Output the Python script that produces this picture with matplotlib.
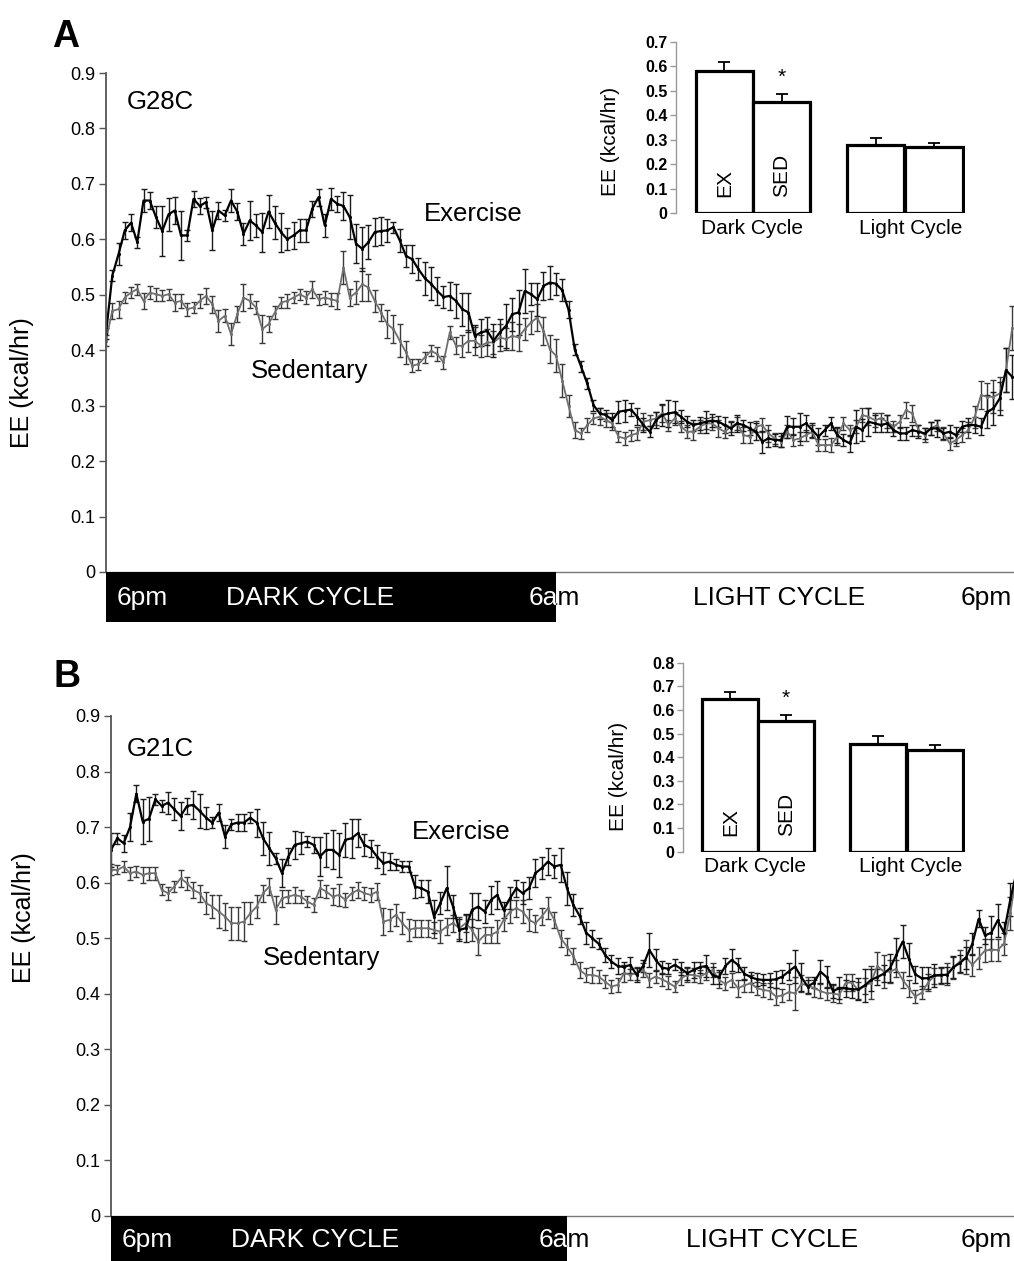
import numpy as np
import matplotlib
matplotlib.use("Agg")
import matplotlib.pyplot as plt
from matplotlib.patches import Rectangle

plt.rcParams['font.family'] = ['Liberation Sans', 'DejaVu Sans']

# ---------------- data (10 min bins, hours from 6pm) ----------------
ex_a = [0.43, 0.534, 0.573, 0.616, 0.63, 0.595, 0.67, 0.67, 0.64, 0.615,
        0.645, 0.652, 0.607, 0.607, 0.673, 0.66, 0.667, 0.616, 0.652, 0.643,
        0.67, 0.65, 0.61, 0.634, 0.625, 0.613, 0.65, 0.63, 0.613, 0.60,
        0.607, 0.616, 0.616, 0.655, 0.676, 0.625, 0.673, 0.664, 0.66, 0.64,
        0.592, 0.583, 0.595, 0.613, 0.615, 0.616, 0.622, 0.598, 0.57, 0.564,
        0.546, 0.53, 0.52, 0.507, 0.496, 0.498, 0.489, 0.474, 0.468, 0.426,
        0.432, 0.435, 0.417, 0.432, 0.444, 0.465, 0.468, 0.507, 0.501, 0.492,
        0.516, 0.522, 0.52, 0.508, 0.473, 0.401, 0.371, 0.34, 0.301, 0.286,
        0.283, 0.274, 0.289, 0.291, 0.293, 0.28, 0.265, 0.253, 0.274, 0.283,
        0.286, 0.288, 0.28, 0.271, 0.265, 0.268, 0.271, 0.273, 0.271, 0.265,
        0.259, 0.268, 0.265, 0.259, 0.253, 0.235, 0.241, 0.238, 0.238, 0.262,
        0.262, 0.262, 0.268, 0.256, 0.244, 0.256, 0.268, 0.247, 0.238, 0.232,
        0.262, 0.256, 0.271, 0.268, 0.265, 0.268, 0.256, 0.25, 0.25, 0.256,
        0.253, 0.25, 0.259, 0.259, 0.25, 0.253, 0.247, 0.262, 0.265, 0.265,
        0.262, 0.289, 0.295, 0.313, 0.364, 0.352]
ex_a_err = [.010, .010, .020, .015, .015, .010, .020, .015, .020, .045,
            .030, .025, .045, .010, .015, .015, .010, .035, .015, .010,
            .020, .015, .020, .035, .020, .035, .030, .030, .035, .020,
            .025, .020, .020, .015, .015, .020, .020, .015, .025, .040,
            .035, .040, .030, .025, .025, .020, .010, .020, .020, .025,
            .020, .030, .030, .025, .020, .025, .030, .030, .035, .020,
            .025, .025, .030, .025, .040, .030, .040, .040, .020, .030,
            .025, .030, .020, .020, .015, .010, .010, .010, .010, .010,
            .010, .012, .020, .020, .012, .015, .012, .010, .015, .020,
            .025, .020, .012, .010, .010, .012, .020, .012, .010, .015,
            .012, .015, .010, .012, .015, .020, .015, .010, .012, .020,
            .015, .025, .015, .012, .015, .010, .012, .015, .010, .015,
            .030, .020, .025, .015, .012, .015, .010, .012, .012, .010,
            .012, .010, .012, .015, .010, .012, .015, .010, .012, .015,
            .015, .030, .030, .030, .040, .040]
sed_a = [0.417, 0.471, 0.474, 0.495, 0.504, 0.51, 0.489, 0.504, 0.501, 0.498,
         0.501, 0.486, 0.489, 0.474, 0.477, 0.489, 0.498, 0.483, 0.453, 0.462,
         0.429, 0.465, 0.495, 0.489, 0.477, 0.438, 0.447, 0.468, 0.486, 0.489,
         0.495, 0.501, 0.495, 0.51, 0.492, 0.495, 0.492, 0.489, 0.549, 0.495,
         0.504, 0.519, 0.513, 0.489, 0.468, 0.447, 0.438, 0.417, 0.396, 0.372,
         0.375, 0.387, 0.399, 0.393, 0.378, 0.432, 0.408, 0.408, 0.417, 0.417,
         0.408, 0.414, 0.414, 0.423, 0.42, 0.426, 0.423, 0.438, 0.45, 0.459,
         0.435, 0.402, 0.39, 0.345, 0.30, 0.256, 0.25, 0.265, 0.277, 0.28,
         0.274, 0.268, 0.244, 0.241, 0.247, 0.25, 0.271, 0.274, 0.277, 0.286,
         0.265, 0.277, 0.262, 0.253, 0.253, 0.262, 0.268, 0.268, 0.259, 0.253,
         0.262, 0.268, 0.247, 0.244, 0.262, 0.265, 0.25, 0.241, 0.235, 0.253,
         0.238, 0.241, 0.247, 0.253, 0.229, 0.229, 0.229, 0.244, 0.268, 0.256,
         0.262, 0.283, 0.28, 0.274, 0.277, 0.271, 0.262, 0.271, 0.292, 0.286,
         0.256, 0.247, 0.259, 0.265, 0.25, 0.232, 0.238, 0.247, 0.256, 0.28,
         0.319, 0.316, 0.316, 0.322, 0.364, 0.44]
sed_a_err = [.010, .015, .015, .010, .010, .010, .015, .012, .012, .010,
             .010, .015, .012, .012, .010, .012, .015, .015, .020, .012,
             .020, .015, .025, .012, .012, .025, .015, .012, .010, .012,
             .010, .010, .012, .015, .010, .012, .012, .015, .030, .015,
             .020, .030, .025, .020, .015, .025, .025, .030, .020, .012,
             .010, .010, .010, .012, .012, .012, .015, .020, .020, .025,
             .020, .025, .020, .025, .020, .025, .025, .020, .020, .025,
             .025, .025, .030, .030, .020, .015, .010, .012, .010, .015,
             .012, .012, .010, .012, .010, .012, .015, .010, .012, .015,
             .010, .012, .010, .012, .015, .012, .010, .012, .015, .012,
             .010, .012, .015, .012, .010, .012, .015, .010, .010, .012,
             .010, .012, .010, .012, .010, .010, .012, .015, .012, .010,
             .012, .012, .015, .012, .010, .012, .010, .012, .015, .015,
             .010, .012, .012, .010, .012, .012, .010, .012, .015, .020,
             .025, .025, .030, .030, .040, .040]

ex_b = [0.659, 0.68, 0.671, 0.70, 0.76, 0.71, 0.715, 0.75, 0.738, 0.744,
        0.732, 0.72, 0.738, 0.74, 0.729, 0.717, 0.708, 0.726, 0.683, 0.705,
        0.708, 0.708, 0.717, 0.708, 0.68, 0.662, 0.644, 0.617, 0.647, 0.668,
        0.671, 0.674, 0.668, 0.647, 0.659, 0.659, 0.65, 0.677, 0.68, 0.689,
        0.668, 0.662, 0.647, 0.635, 0.638, 0.632, 0.629, 0.629, 0.593, 0.59,
        0.584, 0.539, 0.563, 0.59, 0.557, 0.515, 0.518, 0.551, 0.557, 0.548,
        0.569, 0.578, 0.551, 0.572, 0.59, 0.581, 0.59, 0.617, 0.626, 0.638,
        0.629, 0.632, 0.59, 0.56, 0.54, 0.51, 0.50, 0.49, 0.47, 0.458,
        0.45, 0.448, 0.452, 0.434, 0.45, 0.479, 0.461, 0.447, 0.445, 0.452,
        0.445, 0.437, 0.443, 0.448, 0.45, 0.433, 0.43, 0.45, 0.461, 0.452,
        0.436, 0.43, 0.426, 0.425, 0.425, 0.426, 0.431, 0.44, 0.449, 0.43,
        0.413, 0.42, 0.44, 0.43, 0.405, 0.41, 0.41, 0.408, 0.408, 0.415,
        0.425, 0.43, 0.436, 0.446, 0.47, 0.494, 0.462, 0.435, 0.428, 0.428,
        0.433, 0.434, 0.434, 0.448, 0.455, 0.465, 0.49, 0.535, 0.505, 0.51,
        0.532, 0.51, 0.57, 0.62]
ex_b_err = [.030, .010, .015, .025, .015, .040, .040, .010, .010, .020,
            .020, .025, .015, .025, .030, .020, .010, .015, .020, .010,
            .015, .015, .010, .025, .030, .030, .010, .025, .015, .025,
            .020, .010, .015, .035, .030, .035, .040, .030, .035, .025,
            .020, .015, .020, .020, .015, .010, .010, .010, .020, .015,
            .020, .030, .020, .040, .020, .020, .025, .030, .025, .020,
            .025, .025, .015, .020, .015, .020, .020, .025, .020, .025,
            .020, .030, .030, .020, .015, .020, .015, .010, .012, .012,
            .015, .010, .015, .012, .010, .030, .020, .012, .010, .010,
            .012, .012, .015, .010, .020, .015, .012, .015, .020, .012,
            .012, .010, .012, .010, .012, .015, .012, .015, .030, .025,
            .012, .010, .020, .020, .012, .020, .015, .015, .020, .030,
            .020, .015, .015, .025, .030, .030, .030, .015, .020, .020,
            .020, .015, .015, .020, .015, .020, .020, .015, .015, .030,
            .030, .020, .030, .030]
sed_b = [0.623, 0.623, 0.629, 0.617, 0.62, 0.614, 0.617, 0.617, 0.587, 0.581,
         0.593, 0.608, 0.599, 0.587, 0.581, 0.563, 0.557, 0.548, 0.539, 0.527,
         0.527, 0.53, 0.545, 0.557, 0.581, 0.593, 0.551, 0.572, 0.575, 0.578,
         0.575, 0.566, 0.56, 0.59, 0.584, 0.575, 0.578, 0.569, 0.581, 0.587,
         0.581, 0.578, 0.584, 0.53, 0.533, 0.542, 0.527, 0.515, 0.518, 0.518,
         0.518, 0.515, 0.512, 0.521, 0.527, 0.518, 0.527, 0.515, 0.494, 0.506,
         0.506, 0.512, 0.533, 0.548, 0.554, 0.548, 0.533, 0.527, 0.539, 0.554,
         0.533, 0.50, 0.485, 0.468, 0.443, 0.434, 0.434, 0.431, 0.422, 0.413,
         0.416, 0.437, 0.434, 0.437, 0.443, 0.425, 0.431, 0.426, 0.42, 0.413,
         0.428, 0.434, 0.434, 0.431, 0.437, 0.443, 0.425, 0.418, 0.425, 0.41,
         0.415, 0.419, 0.41, 0.407, 0.405, 0.395, 0.397, 0.403, 0.401, 0.418,
         0.415, 0.41, 0.405, 0.401, 0.401, 0.398, 0.42, 0.42, 0.406, 0.414,
         0.42, 0.45, 0.44, 0.44, 0.445, 0.425, 0.41, 0.395, 0.402, 0.42,
         0.432, 0.432, 0.435, 0.446, 0.458, 0.466, 0.452, 0.465, 0.478, 0.479,
         0.479, 0.49, 0.545, 0.62]
sed_b_err = [.010, .008, .010, .012, .010, .015, .012, .012, .010, .012,
             .010, .015, .012, .015, .015, .020, .020, .030, .025, .030,
             .030, .035, .020, .020, .015, .015, .025, .015, .012, .015,
             .012, .010, .012, .015, .012, .015, .020, .012, .012, .015,
             .012, .012, .015, .025, .020, .020, .020, .020, .015, .015,
             .015, .015, .020, .015, .015, .020, .015, .020, .025, .015,
             .015, .020, .020, .020, .015, .020, .020, .015, .015, .020,
             .015, .015, .015, .015, .015, .012, .015, .012, .012, .012,
             .012, .015, .010, .012, .012, .012, .012, .012, .012, .010,
             .012, .012, .012, .012, .012, .012, .015, .012, .012, .015,
             .012, .015, .012, .012, .015, .015, .012, .015, .030, .015,
             .015, .015, .012, .012, .015, .015, .015, .015, .015, .015,
             .030, .025, .030, .020, .015, .015, .015, .012, .012, .015,
             .015, .015, .020, .020, .020, .030, .020, .020, .020, .020,
             .020, .020, .030, .040]

# inset bar data: EX dark, SED dark, EX light, SED light
bar_labels = ['EX', 'SED', '', '']
bars_a = [0.582, 0.455, 0.277, 0.268]
bars_a_err = [0.036, 0.031, 0.028, 0.018]
bars_b = [0.646, 0.554, 0.454, 0.430]
bars_b_err = [0.028, 0.023, 0.035, 0.021]

# ---------------- figure ----------------
W, H = 1014, 1261
fig = plt.figure(figsize=(W / 100, H / 100), dpi=100)


def px_axes(left, top, right, bottom):
    return fig.add_axes([left / W, 1 - bottom / H, (right - left) / W, (bottom - top) / H])


def ftext(x, y, s, **kw):
    return fig.text(x / W, 1 - y / H, s, **kw)


def main_panel(ax, ex, ex_err, sed, sed_err, px_per_hr):
    t_ex = np.arange(len(ex)) / 6.0
    t_sed = np.arange(len(sed)) / 6.0
    ax.errorbar(t_sed, sed, yerr=sed_err, color='#707070', ecolor='#3a3a3a',
                lw=1.3, elinewidth=1.0, capsize=2, capthick=1.0,
                marker='.', ms=2.5)
    ax.errorbar(t_ex, ex, yerr=ex_err, color='black', ecolor='#1a1a1a',
                lw=1.6, elinewidth=1.0, capsize=2, capthick=1.0,
                marker='.', ms=2.5)
    ax.set_ylim(0, 0.9)
    ax.set_xlim(0, (ax.get_position().width * W) / px_per_hr)
    ax.set_yticks(np.arange(0, 0.91, 0.1))
    ax.set_yticklabels(['0'] + ['%.1f' % v for v in np.arange(0.1, 0.91, 0.1)])
    ax.tick_params(axis='y', direction='out', length=5, width=1, color='#555555',
                   labelsize=13, pad=3)
    ax.set_xticks([])
    for s in ['top', 'right']:
        ax.spines[s].set_visible(False)
    ax.spines['left'].set_color('#555555')
    ax.spines['left'].set_linewidth(1.3)
    ax.spines['bottom'].set_color('#777777')
    ax.spines['bottom'].set_linewidth(1.0)
    ax.patch.set_alpha(0)


def time_bar(ax, px_per_hr, x0, y_mid, ampm_left, light_left, pm_right):
    ax.set_xlim(0, (ax.get_position().width * W) / px_per_hr)
    ax.set_ylim(0, 1)
    ax.axis('off')
    rect = Rectangle((0, 0), 12, 1, color='black', lw=0)
    ax.add_patch(rect)
    kw = dict(fontsize=19, va='center', ha='left')
    ftext(x0 + 11, y_mid, '6pm', color='white', **kw)
    ftext(x0 + 120, y_mid, 'DARK CYCLE', color='white', **kw)
    ftext(ampm_left, y_mid, '6am', color='black', **kw)
    wt = ftext(ampm_left, y_mid, '6am', color='white', **kw)
    wt.set_clip_path(rect)
    ftext(light_left, y_mid, 'LIGHT CYCLE', color='black', **kw)
    ftext(pm_right, y_mid, '6pm', color='black', **kw)


def inset(ax, vals, errs, ymax):
    pos = [0.83, 1.81, 3.42, 4.42]
    ax.bar(pos, vals, width=0.98, color='white', edgecolor='black', linewidth=2.3, zorder=3)
    ax.errorbar(pos, vals, yerr=[np.zeros(len(errs)), errs], fmt='none',
                ecolor='black', elinewidth=1.3, capsize=4, capthick=1.3, zorder=2)
    ax.set_xlim(0, 4.95)
    ax.set_ylim(0, ymax)
    ax.set_yticks(np.arange(0, ymax + 0.01, 0.1))
    ax.set_yticklabels(['0'] + ['%.1f' % v for v in np.arange(0.1, ymax + 0.01, 0.1)],
                       fontweight='bold')
    ax.tick_params(axis='y', direction='out', length=4, width=1, color='#999999',
                   labelsize=11.5, pad=2)
    ax.set_xticks([])
    for s in ['top', 'right', 'bottom']:
        ax.spines[s].set_visible(False)
    ax.spines['left'].set_color('#999999')
    ax.spines['left'].set_linewidth(1.0)
    ax.patch.set_alpha(0)
    for p, lab in zip(pos, bar_labels):
        if lab:
            ax.text(p, 0.065, lab, rotation=90, ha='center', va='bottom', fontsize=15)
    return pos


# ---------------- panel A ----------------
axA = px_axes(106, 73, 1014, 572)
main_panel(axA, ex_a, ex_a_err, sed_a, sed_a_err, 37.5)
barA = px_axes(106, 572, 1014, 622)
time_bar(barA, 37.5, 106, 598, 529, 693, 961)

ftext(52, 47, 'A', fontsize=27, fontweight='bold', va='baseline')
ftext(127, 102, 'G28C', fontsize=18.5, va='center')
ftext(473, 214, 'Exercise', fontsize=18.5, va='center', ha='center')
ftext(310, 371, 'Sedentary', fontsize=18.5, va='center', ha='center')
ftext(22, 383, 'EE (kcal/hr)', fontsize=18, rotation=90, va='center', ha='center')

insA = px_axes(676, 41.7, 965, 213)
posA = inset(insA, bars_a, bars_a_err, 0.7)
insA.text(posA[1], bars_a[1] + bars_a_err[1] + 0.03, '*', ha='center', va='bottom', fontsize=15)
ftext(610, 141, 'EE (kcal/hr)', fontsize=15, rotation=90, va='center', ha='center')
ftext(752, 228, 'Dark Cycle', fontsize=15, va='center', ha='center')
ftext(911, 228, 'Light Cycle', fontsize=15, va='center', ha='center')

# ---------------- panel B ----------------
axB = px_axes(111, 716, 1014, 1216)
main_panel(axB, ex_b, ex_b_err, sed_b, sed_b_err, 38.0)
barB = px_axes(111, 1216, 1014, 1261)
time_bar(barB, 38.0, 111, 1240, 539, 686, 961)

ftext(54, 687, 'B', fontsize=27, fontweight='bold', va='baseline')
ftext(127, 749, 'G21C', fontsize=18.5, va='center')
ftext(461, 832, 'Exercise', fontsize=18.5, va='center', ha='center')
ftext(322, 958, 'Sedentary', fontsize=18.5, va='center', ha='center')
ftext(24, 918, 'EE (kcal/hr)', fontsize=18, rotation=90, va='center', ha='center')

insB = px_axes(683, 662.7, 965, 851.7)
posB = inset(insB, bars_b, bars_b_err, 0.8)
insB.text(posB[1], bars_b[1] + bars_b_err[1] + 0.03, '*', ha='center', va='bottom', fontsize=15)
ftext(619, 776, 'EE (kcal/hr)', fontsize=15, rotation=90, va='center', ha='center')
ftext(755, 867, 'Dark Cycle', fontsize=15, va='center', ha='center')
ftext(911, 867, 'Light Cycle', fontsize=15, va='center', ha='center')

plt.savefig('out.png', dpi=100)
